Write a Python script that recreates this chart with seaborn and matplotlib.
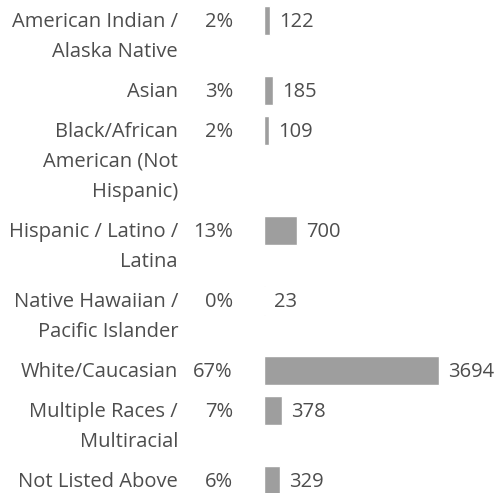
import matplotlib
matplotlib.use('Agg')
import matplotlib.pyplot as plt
import matplotlib.transforms as mtransforms
import seaborn as sns
import pandas as pd

# data
labels = ['American Indian /\nAlaska Native', 'Asian', 'Black/African\nAmerican (Not\nHispanic)',
          'Hispanic / Latino /\nLatina', 'Native Hawaiian /\nPacific Islander', 'White/Caucasian',
          'Multiple Races /\nMultiracial', 'Not Listed Above']
pcts = ['2%', '3%', '2%', '13%', '0%', '67%', '7%', '6%']
counts = [122, 185, 109, 700, 23, 3694, 378, 329]

TEXT = '#4d4d4d'
BAR = '#9e9e9e'
W, H = 501, 493
BAR_X0 = 264          # pixel where bars start
SCALE = 175 / 3694    # pixels per count
FS = 14.5

sns.set_theme(style='white')
plt.rcParams['font.family'] = ['Open Sans', 'DejaVu Sans']

# row positions (pixels from top), multi-line labels take more room
ypos = []
y = 20
for lab in labels:
    ypos.append(y)
    y += 30 * lab.count('\n') + 40

df = pd.DataFrame({'count': counts, 'y': ypos})

fig = plt.figure(figsize=(W / 100, H / 100), dpi=100)
ax = fig.add_axes([0, 0, 1, 1])
sns.barplot(data=df, x='count', y='y', orient='y', native_scale=True,
            width=29 / 40, color=BAR, saturation=1, ax=ax)
ax.set_xlim(-BAR_X0 / SCALE, (W - BAR_X0) / SCALE)
ax.set_ylim(H, 0)
ax.set_axis_off()

tr = mtransforms.blended_transform_factory(ax.transAxes, ax.transData)
base = 7  # baseline sits this far below the row centre
for lab, p, c, yy in zip(labels, pcts, counts, ypos):
    for i, line in enumerate(lab.split('\n')):
        ax.text(178 / W, yy + base + 30 * i, line, transform=tr, ha='right', va='baseline',
                color=TEXT, fontsize=FS)
    ax.text(233 / W, yy + base, p, transform=tr, ha='right', va='baseline', color=TEXT, fontsize=FS)
    ax.annotate(str(c), xy=(c, yy + base), xytext=(9, 0), textcoords='offset pixels',
                ha='left', va='baseline', color=TEXT, fontsize=FS)

fig.savefig('out.png', dpi=100)
